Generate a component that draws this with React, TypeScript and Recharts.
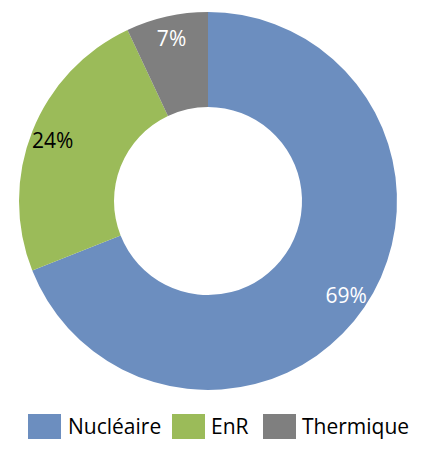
import React from 'react'
import { PieChart, Pie, Cell, Legend } from 'recharts'

const categories = ['Nucléaire', 'EnR', 'Thermique']
const shares = [69, 24, 7]
const colors = ['#6c8ebf', '#9bbb59', '#7f7f7f']
const labelColors = ['#ffffff', '#000000', '#ffffff']

const data = categories.map((name, i) => ({ name, value: shares[i] }))

const FONT = '"Open Sans", sans-serif'
const RAD = Math.PI / 180

function renderLabel(props: any) {
  const { cx, cy, midAngle, index, value } = props
  const r = 167
  const x = cx + r * Math.cos(-midAngle * RAD)
  const y = cy + r * Math.sin(-midAngle * RAD)
  return (
    <text
      x={x}
      y={y}
      fill={labelColors[index]}
      textAnchor="middle"
      dominantBaseline="central"
      fontSize={21}
      fontFamily={FONT}
    >
      {value}%
    </text>
  )
}

function CustomLegend() {
  const items = [
    { x: 28, tx: 68 },
    { x: 172, tx: 211 },
    { x: 263, tx: 302 },
  ]
  return (
    <svg width={426} height={40} style={{ display: 'block' }}>
      {categories.map((c, i) => (
        <g key={c}>
          <rect x={items[i].x} y={5} width={33} height={25} fill={colors[i]} />
          <text
            x={items[i].tx}
            y={17}
            dominantBaseline="central"
            fontSize={21}
            fontFamily={FONT}
            fill="#000"
          >
            {c}
          </text>
        </g>
      ))}
    </svg>
  )
}

export default function App() {
  return (
    <div style={{ position: 'fixed', left: 0, top: 0, width: 426, height: 456, background: '#fff' }}>
      <PieChart width={426} height={456} margin={{ top: 0, right: 0, bottom: 0, left: 0 }}>
        <Pie
          data={data}
          dataKey="value"
          nameKey="name"
          cx={208}
          cy={201}
          innerRadius={94}
          outerRadius={189}
          startAngle={90}
          endAngle={-270}
          stroke="none"
          label={renderLabel}
          labelLine={false}
          isAnimationActive={false}
        >
          {data.map((d, i) => (
            <Cell key={d.name} fill={colors[i]} />
          ))}
        </Pie>
        <Legend
          verticalAlign="bottom"
          align="left"
          wrapperStyle={{ left: 0, bottom: 7, width: 426 }}
          content={<CustomLegend />}
        />
      </PieChart>
    </div>
  )
}
